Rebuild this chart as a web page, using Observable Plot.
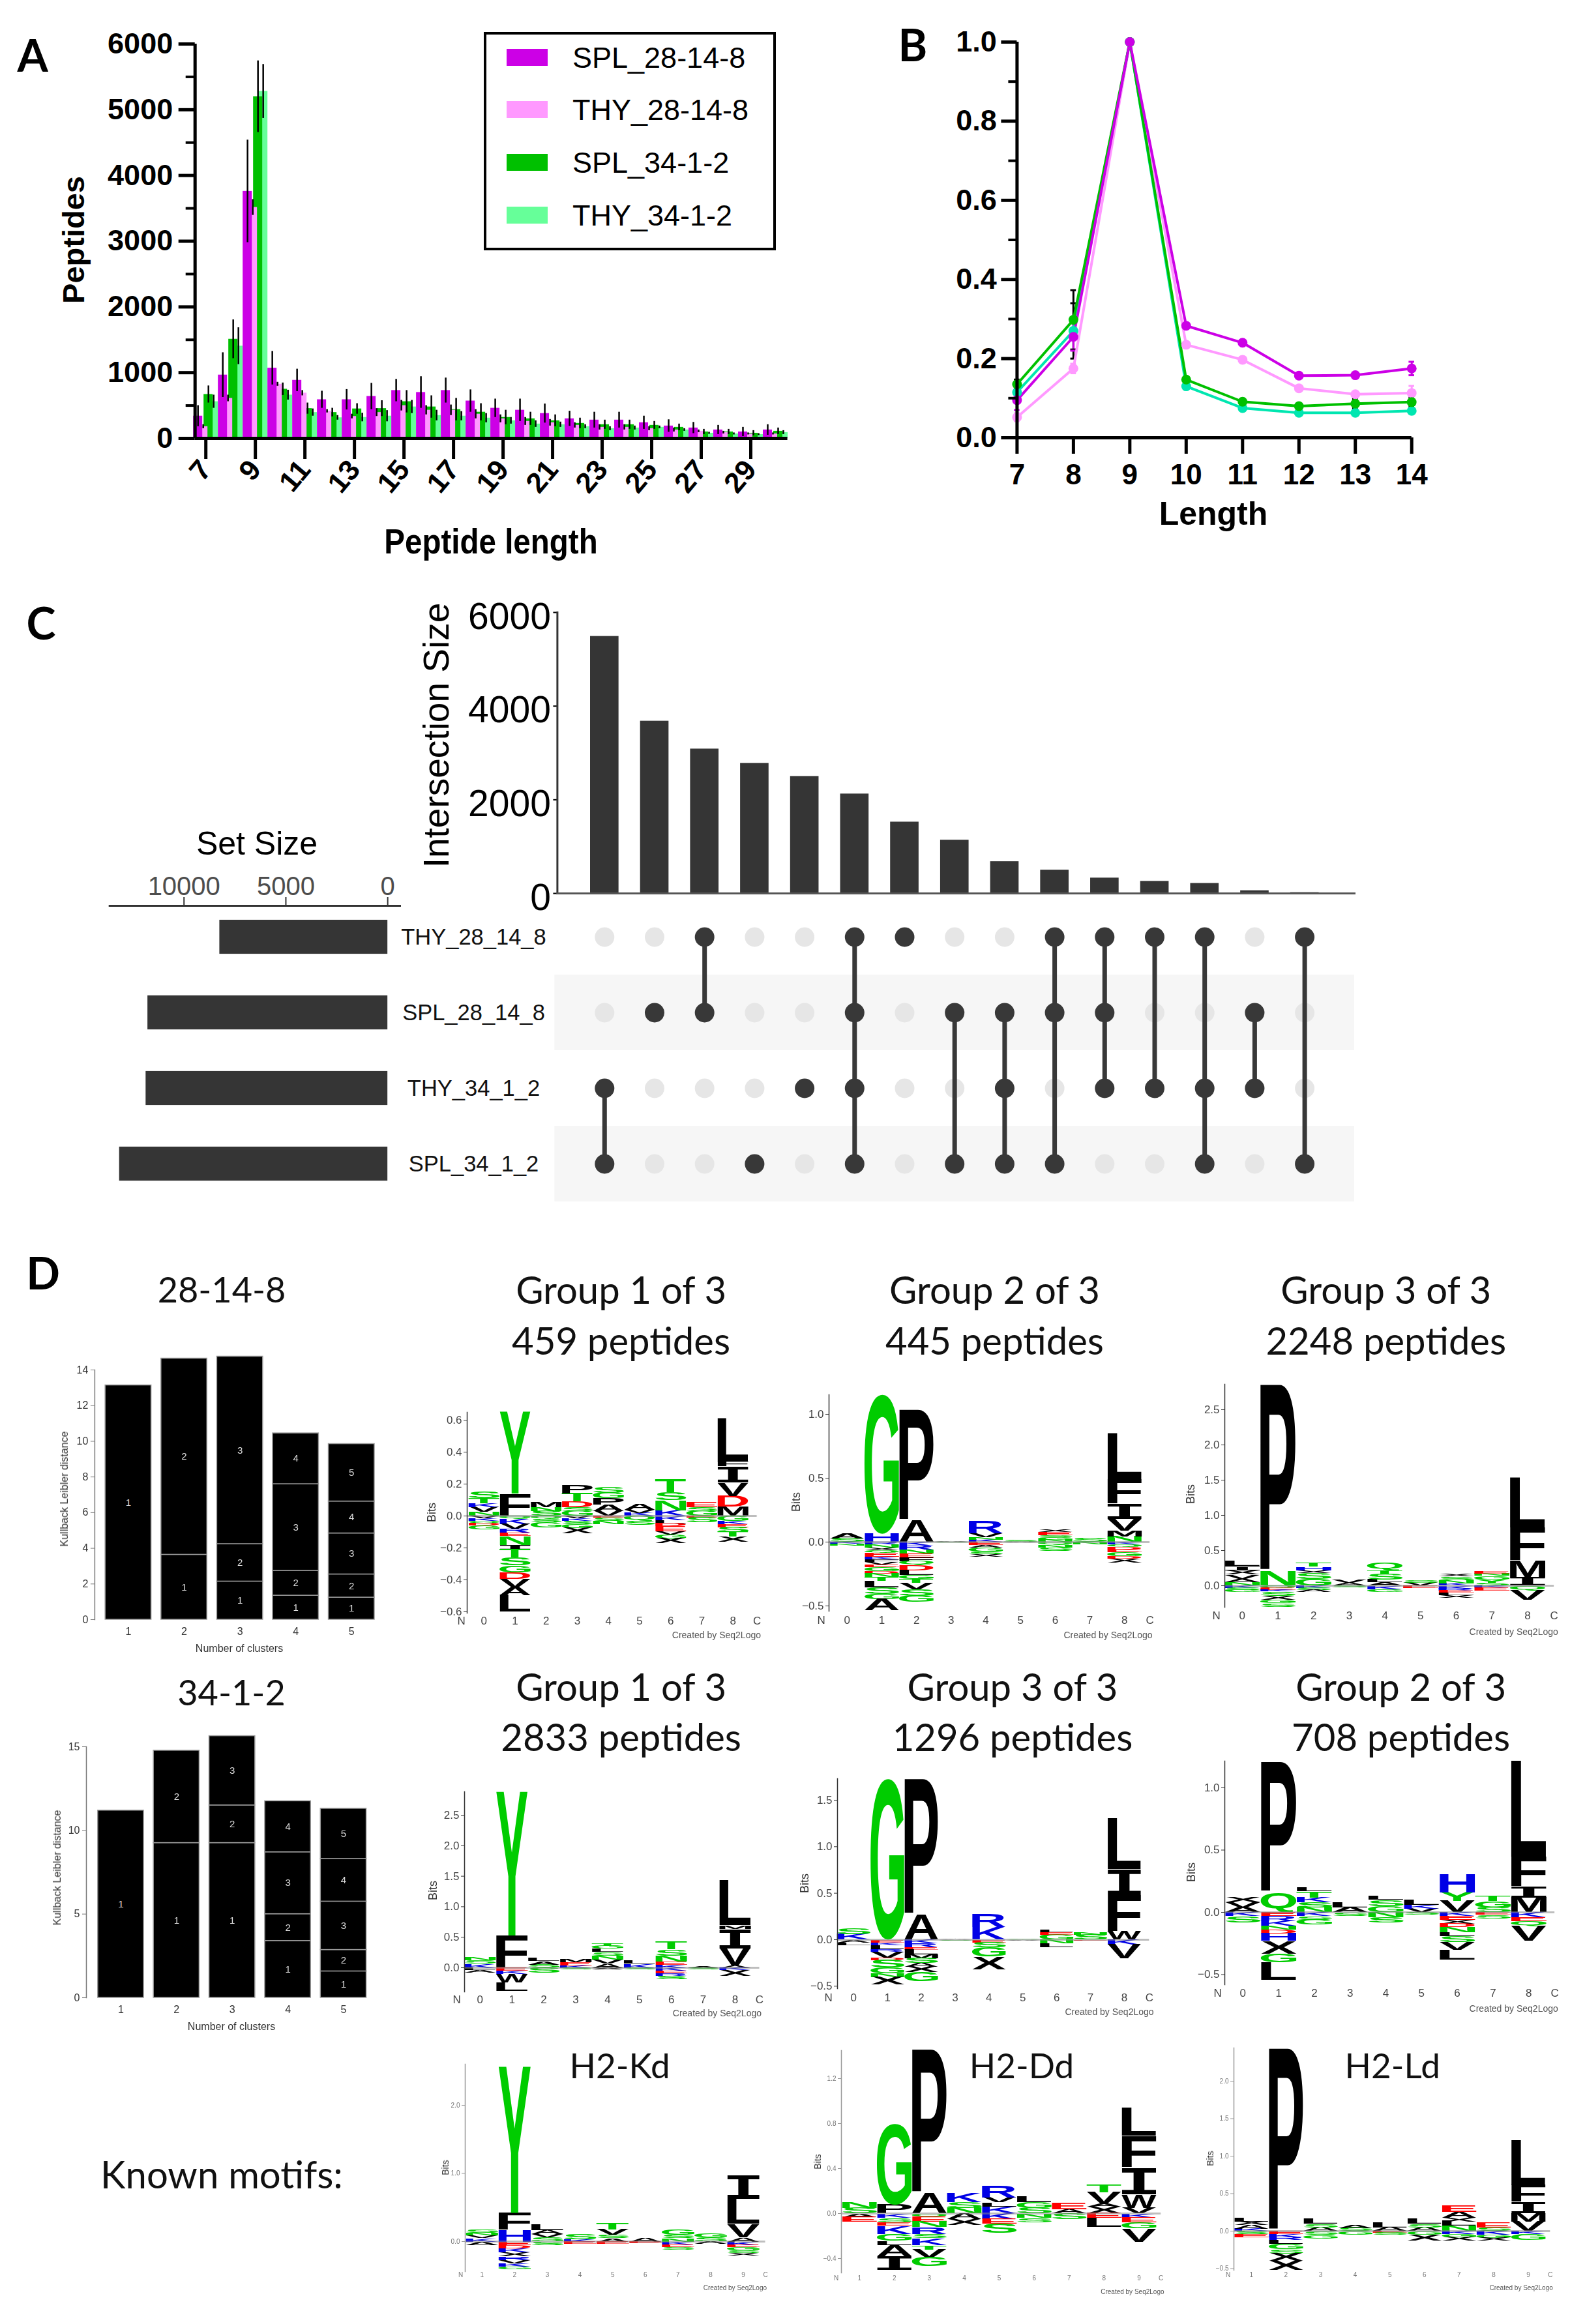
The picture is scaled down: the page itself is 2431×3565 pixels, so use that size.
<!DOCTYPE html>
<html><head><meta charset="utf-8">
<script src="https://cdn.jsdelivr.net/npm/d3@7"></script>
<script src="https://cdn.jsdelivr.net/npm/@observablehq/plot@0.6"></script>
<style>
html,body{margin:0;padding:0;background:#fff}
#page{position:relative;width:2431px;height:3565px;overflow:hidden;background:#fff}
#page svg{overflow:visible;max-width:none;background:transparent}
.lb{position:absolute;white-space:nowrap;line-height:1}
</style></head><body><div id="page"></div>
<script>
// ---------- Panel A ----------
const lengths=[7,8,9,10,11,12,13,14,15,16,17,18,19,20,21,22,23,24,25,26,27,28,29,30];
const series=["SPL_28-14-8","THY_28-14-8","SPL_34-1-2","THY_34-1-2"];
const spl28=[340,965,3760,1070,885,590,590,640,730,700,730,570,460,430,380,300,280,280,240,190,160,130,100,130];
const thy28=[180,610,3515,825,690,415,335,395,500,430,430,370,300,260,240,200,170,170,150,130,110,90,70,70];
const spl34=[670,1510,5200,750,455,395,450,455,560,480,440,400,320,300,270,230,210,210,200,170,100,100,80,110];
const thy34=[560,1405,5280,660,395,315,320,340,480,350,340,310,270,220,210,180,150,160,170,130,80,70,60,90];
const errSpl28=[160,340,780,255,170,130,155,200,170,240,190,170,140,170,145,115,120,120,100,95,85,70,70,80];
const errThy28=[30,50,120,30,40,25,35,60,80,70,80,70,60,60,50,40,40,40,30,30,20,20,15,15];
const errSpl34=[130,295,545,95,85,65,80,120,170,170,170,130,110,100,90,80,70,70,60,50,40,40,40,50];
const errThy34=[100,280,410,75,55,35,65,85,100,80,70,70,50,50,40,30,30,30,20,20,15,15,15,30];
const colorsA=["#CC00E6","#FF99FF","#00C000","#66FF99"];
// ---------- Panel B ----------
const lengthsB=[7,8,9,10,11,12,13,14];
const normSpl28=[.095,.255,1,.283,.24,.157,.158,.175];
const normThy28=[.052,.175,1,.235,.197,.125,.11,.113];
const normSpl34=[.135,.298,1,.147,.091,.08,.086,.09];
const normThy34=[.115,.27,1,.13,.075,.063,.063,.068];
const nerrSpl28=[.025,.035,0,.006,.006,.006,.006,.017];
const nerrThy28=[.01,.012,0,.006,.005,.005,.004,.018];
const nerrSpl34=[.012,.075,0,.005,.005,.005,.012,.012];
const nerrThy34=[.012,.07,0,.004,.004,.004,.004,.004];
const colorsB=["#CC00E6","#FF99FF","#00C000","#00E6B0"];
// ---------- Panel C ----------
const interSizes=[5490,3680,3085,2780,2500,2125,1525,1140,680,500,330,260,215,60,20];
const setNames=["THY_28_14_8","SPL_28_14_8","THY_34_1_2","SPL_34_1_2"];
const setSizes=[8250,11780,11870,13170];
const memberships=[[2,3],[1],[0,1],[3],[2],[0,1,2,3],[0],[1,3],[1,2,3],[0,1,3],[0,1,2],[0,2],[0,2,3],[1,2],[0,3]];
// ---------- Panel D: Kullback-Leibler bars ----------
const kl28=[[13.14],[3.64,11.0],[2.14,2.1,10.51],[1.35,1.39,4.86,2.85],[1.24,1.3,2.3,1.79,3.22]];
const kl34=[[11.19],[9.25,5.52],[9.25,2.25,4.14],[3.4,1.6,3.7,3.05],[1.58,1.28,2.89,2.55,3.0]];
// ---------- Panel D: logos [position, residue, bits] from the baseline outward ----------
const logo28g1=[[0,"N",.025],[0,"V",.03],[0,"K",.025],[0,"T",.03],[0,"S",.045],[0,"V",-.015],[0,"K",-.015],[0,"Q",-.015],[0,"D",-.015],[0,"G",-.025],
[1,"F",.14],[1,"Y",.51],[1,"Q",-.02],[1,"K",-.03],[1,"V",-.03],[1,"R",-.025],[1,"E",-.02],[1,"N",-.055],[1,"I",-.03],[1,"T",-.05],[1,"S",-.05],[1,"G",-.045],[1,"D",-.04],[1,"V",-.05],[1,"A",-.05],[1,"L",-.105],
[2,"S",.03],[2,"N",.025],[2,"M",.03],[2,"Q",-.02],[2,"S",-.02],[2,"G",-.03],
[3,"G",.03],[3,"S",.025],[3,"D",.035],[3,"T",.05],[3,"P",.055],[3,"V",-.015],[3,"K",-.015],[3,"S",-.02],[3,"G",-.025],[3,"X",-.035],
[4,"V",.03],[4,"A",.04],[4,"P",.04],[4,"G",.035],[4,"S",.035],[4,"E",-.01],[4,"S",-.02],[4,"N",-.02],
[5,"K",.02],[5,"V",.02],[5,"A",.035],[5,"Q",-.03],[5,"S",-.025],
[6,"K",.035],[6,"N",.065],[6,"S",.05],[6,"T",.085],[6,"K",-.025],[6,"L",-.02],[6,"D",-.02],[6,"E",-.03],[6,"V",-.02],[6,"G",-.025],[6,"X",-.03],
[7,"G",.03],[7,"S",.025],[7,"E",.03],[7,"E",-.01],[7,"S",-.03],
[8,"M",.06],[8,"D",.065],[8,"V",.085],[8,"I",.1],[8,"F",.03],[8,"L",.27],[8,"G",-.03],[8,"K",-.02],[8,"E",-.02],[8,"S",-.03],[8,"T",-.03],[8,"X",-.03]];
const logo28g2=[[0,"S",.03],[0,"A",.04],[0,"K",-.015],[0,"N",-.015],
[1,"H",.065],[1,"G",1.09],[1,"R",-.02],[1,"N",-.025],[1,"X",-.02],[1,"Q",-.02],[1,"E",-.03],[1,"K",-.02],[1,"F",-.02],[1,"V",-.02],[1,"E",-.02],[1,"G",-.03],[1,"D",-.02],[1,"N",-.03],[1,"T",-.03],[1,"L",-.05],[1,"S",-.05],[1,"G",-.04],[1,"A",-.09],
[2,"A",.17],[2,"P",.87],[2,"K",-.03],[2,"R",-.03],[2,"N",-.03],[2,"E",-.03],[2,"F",-.03],[2,"Q",-.03],[2,"D",-.04],[2,"L",-.04],[2,"G",-.03],[2,"T",-.03],[2,"V",-.05],[2,"S",-.05],[2,"G",-.05],
[3,"A",.005],[3,"S",-.005],
[4,"K",.02],[4,"N",.02],[4,"V",.03],[4,"R",.1],[4,"E",-.025],[4,"A",-.02],[4,"G",-.03],[4,"S",-.02],[4,"X",-.02],
[5,"S",.01],[5,"A",-.005],
[6,"N",.02],[6,"G",.02],[6,"S",.015],[6,"E",.025],[6,"X",.02],[6,"Q",-.025],[6,"N",-.02],[6,"S",-.025],
[7,"S",.03],[7,"N",-.02],
[8,"N",.045],[8,"M",.045],[8,"V",.09],[8,"I",.12],[8,"F",.19],[8,"L",.36],[8,"K",-.02],[8,"Q",-.02],[8,"D",-.02],[8,"E",-.02],[8,"G",-.03],[8,"D",-.02],[8,"X",-.03]];
const logo28g3=[[0,"N",.05],[0,"A",.05],[0,"V",.06],[0,"X",.06],[0,"I",.06],[0,"L",.07],[0,"K",-.03],[0,"S",-.03],[0,"G",-.03],
[1,"N",.2],[1,"P",2.66],[1,"Q",-.03],[1,"E",-.03],[1,"K",-.02],[1,"S",-.06],[1,"X",-.06],[1,"G",-.05],[1,"S",-.05],
[2,"G",.1],[2,"S",.08],[2,"X",.04],[2,"H",.05],[2,"T",.06],[2,"K",-.03],[2,"S",-.03],[2,"A",-.03],
[3,"A",.04],[3,"V",.04],[3,"S",-.02],
[4,"A",.05],[4,"L",.04],[4,"S",.08],[4,"T",.05],[4,"Q",.1],[4,"K",-.05],[4,"G",-.04],
[5,"V",.04],[5,"S",.04],[5,"E",-.03],
[6,"K",.03],[6,"N",.05],[6,"S",.05],[6,"X",.04],[6,"K",-.04],[6,"R",-.03],[6,"E",-.03],[6,"L",-.03],[6,"X",-.04],
[7,"S",.04],[7,"Y",.05],[7,"G",.05],[7,"N",.03],[7,"E",.03],[7,"K",-.02],[7,"E",-.05],
[8,"I",.12],[8,"M",.24],[8,"F",.47],[8,"L",.71],[8,"Q",-.06],[8,"V",-.14]];
const logo34g1=[[0,"K",.07],[0,"S",.05],[0,"N",.05],[0,"L",-.04],[0,"A",-.04],
[1,"F",.53],[1,"Y",2.36],[1,"E",-.05],[1,"K",-.05],[1,"W",-.14],[1,"L",-.14],
[2,"S",.05],[2,"A",.06],[2,"L",.06],[2,"S",-.08],
[3,"K",.04],[3,"E",.05],[3,"M",.05],[3,"S",-.03],
[4,"A",.07],[4,"V",.06],[4,"N",.07],[4,"S",.06],[4,"L",.05],[4,"G",.05],[4,"T",.04],[4,"A",-.03],
[5,"K",.07],[5,"L",.06],[5,"S",-.03],
[6,"K",.05],[6,"E",.05],[6,"N",.1],[6,"S",.1],[6,"T",.13],[6,"K",-.05],[6,"E",-.04],[6,"R",-.04],[6,"S",-.06],
[7,"A",.02],[7,"S",-.03],
[8,"A",.04],[8,"V",.28],[8,"I",.32],[8,"M",.06],[8,"L",.74],[8,"K",-.04],[8,"X",-.09]];
const logo34g3=[[0,"K",.06],[0,"S",.06],[0,"A",-.03],[0,"L",-.03],
[1,"G",1.73],[1,"E",-.03],[1,"K",-.03],[1,"L",-.04],[1,"R",-.03],[1,"V",-.06],[1,"D",-.03],[1,"S",-.08],[1,"G",-.06],[1,"N",-.04],[1,"X",-.08],
[2,"A",.27],[2,"P",1.46],[2,"K",-.04],[2,"R",-.04],[2,"E",-.03],[2,"L",-.05],[2,"M",-.04],[2,"S",-.05],[2,"A",-.04],[2,"X",-.06],[2,"G",-.1],
[3,"A",.01],[3,"S",-.01],
[4,"K",.14],[4,"R",.14],[4,"E",-.03],[4,"S",-.05],[4,"G",-.1],[4,"X",-.14],
[5,"S",.01],[5,"A",-.01],
[6,"G",.05],[6,"E",.03],[6,"L",.03],[6,"N",-.04],[6,"L",-.04],
[7,"S",.05],[7,"N",.03],[7,"E",-.01],
[8,"W",.09],[8,"F",.39],[8,"I",.28],[8,"L",.55],[8,"K",-.05],[8,"V",-.15]];
const logo34g2=[[0,"A",.04],[0,"V",.04],[0,"X",.04],[0,"K",-.03],[0,"S",-.05],
[1,"Q",.16],[1,"P",1.05],[1,"E",-.03],[1,"R",-.04],[1,"K",-.04],[1,"N",-.03],[1,"D",-.03],[1,"H",-.06],[1,"X",-.1],[1,"G",-.07],[1,"L",-.14],
[2,"N",.04],[2,"S",.04],[2,"K",.04],[2,"T",.05],[2,"L",.03],[2,"K",-.03],[2,"S",-.03],[2,"G",-.04],
[3,"A",.04],[3,"L",.04],[3,"S",-.03],
[4,"G",.05],[4,"S",.05],[4,"L",.03],[4,"N",-.04],[4,"S",-.04],
[5,"V",.03],[5,"K",.03],[5,"L",.04],[5,"S",-.02],
[6,"V",.09],[6,"Y",.07],[6,"H",.15],[6,"K",-.03],[6,"E",-.03],[6,"X",-.03],[6,"D",-.03],[6,"N",-.04],[6,"L",-.03],[6,"S",-.05],[6,"V",-.06],[6,"L",-.08],
[7,"S",.04],[7,"G",.05],[7,"T",.04],[7,"E",-.02],[7,"S",-.03],
[8,"M",.12],[8,"I",.09],[8,"F",.24],[8,"L",.77],[8,"K",-.04],[8,"E",-.03],[8,"Q",-.04],[8,"V",-.12]];
const logoKd=[[1,"K",.05],[1,"V",.04],[1,"N",.04],[1,"S",.05],[1,"A",-.05],
[2,"H",.17],[2,"F",.25],[2,"Y",2.15],[2,"E",-.05],[2,"D",-.05],[2,"K",-.06],[2,"X",-.06],[2,"R",-.05],[2,"V",-.05],[2,"K",-.05],[2,"G",-.04],
[3,"S",.06],[3,"V",.05],[3,"A",.06],[3,"L",.08],[3,"S",-.05],
[4,"K",.03],[4,"S",.07],[4,"E",-.03],
[5,"A",.05],[5,"S",.05],[5,"V",.08],[5,"T",.1],[5,"E",-.03],
[6,"A",.06],[6,"E",-.02],
[7,"N",.05],[7,"S",.05],[7,"G",.08],[7,"K",-.04],[7,"E",-.04],[7,"S",-.04],
[8,"S",.06],[8,"G",.06],[8,"A",-.03],
[9,"A",.06],[9,"V",.2],[9,"L",.37],[9,"I",.34],[9,"K",-.05],[9,"E",-.03],[9,"G",-.05],[9,"S",-.04],[9,"X",-.04]];
const logoDd=[[1,"S",.05],[1,"N",.05],[1,"A",-.03],[1,"E",-.04],
[2,"P",.08],[2,"G",.72],[2,"K",-.04],[2,"S",-.04],[2,"E",-.03],[2,"K",-.07],[2,"G",-.06],[2,"L",-.04],[2,"A",-.1],[2,"I",-.12],
[3,"A",.18],[3,"P",1.28],[3,"Q",-.03],[3,"E",-.04],[3,"N",-.05],[3,"R",-.06],[3,"S",-.04],[3,"K",-.06],[3,"T",-.04],[3,"V",-.07],[3,"G",-.08],
[4,"N",.05],[4,"S",.05],[4,"K",.08],[4,"A",-.05],[4,"X",-.05],
[5,"K",.06],[5,"L",.04],[5,"V",.04],[5,"R",.1],[5,"K",-.05],[5,"E",-.04],[5,"S",-.08],
[6,"S",.05],[6,"G",.05],[6,"L",.05],[6,"N",-.04],[6,"S",-.04],
[7,"A",.04],[7,"E",.06],[7,"S",-.05],
[8,"X",.06],[8,"A",.03],[8,"V",.1],[8,"T",.07],[8,"E",-.04],[8,"L",-.08],
[9,"V",.05],[9,"W",.12],[9,"I",.24],[9,"F",.28],[9,"L",.25],[9,"K",-.04],[9,"E",-.04],[9,"G",-.05],[9,"V",-.12]];
const logoLd=[[1,"K",.03],[1,"A",.05],[1,"X",.05],[1,"L",.05],[1,"S",-.04],[1,"E",-.04],
[2,"P",2.44],[2,"E",-.04],[2,"K",-.04],[2,"R",-.04],[2,"L",-.05],[2,"G",-.07],[2,"S",-.06],[2,"X",-.1],[2,"X",-.12],
[3,"A",.05],[3,"S",.05],[3,"L",.06],[3,"S",-.05],[3,"G",-.05],
[4,"S",.04],[4,"A",.04],[4,"G",-.05],
[5,"A",.05],[5,"L",.07],[5,"E",-.02],[5,"S",-.03],
[6,"A",.05],[6,"S",.05],[6,"L",.06],[6,"G",-.05],[6,"X",-.08],
[7,"N",.07],[7,"L",.06],[7,"X",.05],[7,"A",.08],[7,"E",.09],[7,"K",-.04],[7,"G",-.04],[7,"X",-.05],
[8,"S",.05],[8,"E",.07],[8,"K",-.05],[8,"G",-.04],[8,"X",-.04],
[9,"V",.13],[9,"M",.11],[9,"I",.15],[9,"F",.22],[9,"L",.6],[9,"K",-.04],[9,"G",-.08]];

// ---------- helpers ----------
const page=document.getElementById("page");
const SANS='"Liberation Sans",Arial,sans-serif';
const NARROW='"Liberation Sans Narrow","Liberation Sans",sans-serif';
const LATO='Lato,"Open Sans",sans-serif';
function place(svg,left,top,w,blur){
  const d=document.createElement("div");
  d.style.cssText=`position:absolute;left:${left}px;top:${top}px;width:${w}px`+(blur?`;filter:blur(${blur}px)`:"");
  d.append(svg);page.append(d);
}
function label(text,cx,cy,o={}){
  const d=document.createElement("div");d.className="lb";d.textContent=text;
  const ax=o.anchor==="end"?"-100%":o.anchor==="start"?"0":"-50%";
  d.style.cssText+=`;left:${cx}px;top:${cy}px;font-size:${o.size||20}px;font-family:${o.family||SANS};font-weight:${o.weight||"normal"};color:${o.color||"#000"};transform:translate(${ax},-50%) rotate(${o.rotate||0}deg) scale(${o.sx||1},${o.sy||1})`;
  page.append(d);
}
const range=(a,b,s)=>d3.range(a,b+s/2,s);

// ---------- Panel A plot ----------
const rowsA=[];
[[thy34,errThy34,3],[spl34,errSpl34,2],[thy28,errThy28,1],[spl28,errSpl28,0]].forEach(([v,e,j])=>lengths.forEach((len,i)=>rowsA.push({len,j,v:v[i],e:e[i]})));
const step=.2106,bw=.3685,start=-.5;
place(Plot.plot({width:1300,height:800,marginLeft:298.7,marginTop:67,marginBottom:128,marginRight:92.4,
  x:{domain:[6.566,30.49],axis:null},y:{domain:[0,6000],axis:null},
  style:{fontFamily:SANS,fontWeight:"bold",background:"transparent",color:"#000"},
  marks:[
    Plot.rectY(rowsA,{x1:d=>d.len+start+d.j*step,x2:d=>d.len+start+d.j*step+bw,y1:()=>0,y2:"v",fill:d=>colorsA[d.j]}),
    Plot.ruleX(rowsA,{x:d=>d.len+start+d.j*step+bw/2,y1:d=>Math.max(0,d.v-d.e),y2:d=>d.v+d.e,stroke:"#000",strokeWidth:2.5}),
    Plot.axisY({ticks:range(0,6000,1000),tickSize:25,tickPadding:9,strokeWidth:5,fontSize:45,label:null,tickFormat:"d"}),
    Plot.axisY({ticks:range(500,5500,1000),tickSize:14,strokeWidth:4,fill:"none",label:null}),
    Plot.axisX({ticks:range(7,29,2),tickSize:32,tickPadding:8,strokeWidth:5,tickRotate:-50,fontSize:44,label:null,tickFormat:"d"}),
    Plot.ruleX([6.566],{stroke:"#000",strokeWidth:5}),
    Plot.ruleY([0],{stroke:"#000",strokeWidth:5})
  ]}),0,0,1300);
label("Peptides",112,368,{size:47,weight:"bold",rotate:-90});
label("Peptide length",753,830,{size:54,weight:"bold",sx:.88});
// legend
(function(){
  const box=document.createElement("div");
  box.style.cssText="position:absolute;left:742px;top:49px;width:440px;height:327px;border:4px solid #000;background:#fff";
  page.append(box);
  [88,168,249,330].forEach((cy,i)=>{
    const s=document.createElement("div");
    s.style.cssText=`position:absolute;left:777px;top:${cy-13}px;width:63px;height:26px;background:${colorsA[i]}`;
    page.append(s);
    label(series[i],878,cy,{size:45,anchor:"start"});
  });
})();

// ---------- Panel B plot ----------
const rowsB=[];
[[normThy28,nerrThy28,1],[normThy34,nerrThy34,3],[normSpl34,nerrSpl34,2],[normSpl28,nerrSpl28,0]].forEach(([v,e,j])=>lengthsB.forEach((len,i)=>rowsB.push({len,j,v:v[i],e:e[i]})));
const errB=rowsB.filter(d=>d.e>0);
const errColor=d=>d.j===0||d.j===1?colorsB[d.j]:"#000";
place(Plot.plot({width:1000,height:800,marginLeft:209.4,marginTop:64,marginBottom:129,marginRight:185.3,
  x:{domain:[7,14],axis:null},y:{domain:[0,1],axis:null},
  style:{fontFamily:SANS,fontWeight:"bold",background:"transparent",color:"#000"},
  marks:[
    Plot.ruleX(errB,{x:"len",y1:d=>d.v-d.e,y2:d=>d.v+d.e,stroke:errColor,strokeWidth:3}),
    Plot.ruleY(errB,{y:d=>d.v+d.e,x1:d=>d.len-.05,x2:d=>d.len+.05,stroke:errColor,strokeWidth:3}),
    Plot.ruleY(errB,{y:d=>d.v-d.e,x1:d=>d.len-.05,x2:d=>d.len+.05,stroke:errColor,strokeWidth:3}),
    Plot.line(rowsB,{x:"len",y:"v",z:"j",stroke:d=>colorsB[d.j],strokeWidth:4}),
    Plot.dot(rowsB,{x:"len",y:"v",fill:d=>colorsB[d.j],r:7.5}),
    Plot.axisY({ticks:range(0,1,.2),tickSize:24,tickPadding:7,strokeWidth:5,fontSize:45,label:null,tickFormat:".1f"}),
    Plot.axisY({ticks:range(.1,.9,.2),tickSize:13,strokeWidth:4,fill:"none",label:null}),
    Plot.axisX({ticks:lengthsB,tickSize:25,tickPadding:15,strokeWidth:5,fontSize:44,label:null,tickFormat:"d"}),
    Plot.ruleX([7],{stroke:"#000",strokeWidth:5}),
    Plot.ruleY([0],{stroke:"#000",strokeWidth:5})
  ]}),1350,0,1000);
label("Length",1861,788,{size:50,weight:"bold"});

// ---------- Panel C ----------
const cols=d3.range(interSizes.length);
place(Plot.plot({width:1500,height:520,marginLeft:234.4,marginRight:43,marginTop:39,marginBottom:50,
  x:{type:"band",domain:cols,range:[285,1402.5],paddingInner:.431,paddingOuter:0,round:false,axis:null},
  y:{domain:[0,6000],axis:null},
  style:{fontFamily:SANS,background:"transparent",color:"#000"},
  marks:[
    Plot.barY(cols,{x:d=>d,y:d=>interSizes[d],fill:"#353535"}),
    Plot.axisY({ticks:range(0,6000,2000),tickSize:6,strokeWidth:2,fill:"none",label:null}),
    Plot.axisY({ticks:range(0,6000,2000),tickSize:0,tickPadding:10,fontSize:57,stroke:"none",dy:7,label:null,tickFormat:"d"}),
    Plot.frame({anchor:"left",stroke:"#333",strokeWidth:3}),
    Plot.frame({anchor:"bottom",stroke:"#555",strokeWidth:3})
  ]}),620,900,1500);
label("Intersection Size",669,1128,{size:55,rotate:-90});

const memberRows=[];
memberships.forEach((m,c)=>setNames.forEach((s,r)=>memberRows.push({c,r,on:m.includes(r)})));
const links=memberships.map((m,c)=>({c,a:d3.min(m),b:d3.max(m)})).filter(d=>d.a!==d.b);
place(Plot.plot({width:1260,height:480,marginLeft:7.4,marginRight:26,marginTop:9,marginBottom:7,
  x:{domain:[-.996,14.996],axis:null},y:{domain:[3.5,-.5],axis:null},
  style:{background:"transparent"},
  marks:[
    Plot.rect([1,3],{x1:()=>-.996,x2:()=>14.996,y1:d=>d-.5,y2:d=>d+.5,fill:"#f6f6f6"}),
    Plot.dot(memberRows.filter(d=>!d.on),{x:"c",y:"r",r:15,fill:"#e6e6e6"}),
    Plot.ruleX(links,{x:"c",y1:"a",y2:"b",stroke:"#383838",strokeWidth:7}),
    Plot.dot(memberRows.filter(d=>d.on),{x:"c",y:"r",r:15,fill:"#383838"})
  ]}),843,1370,1260);

place(Plot.plot({width:760,height:560,marginLeft:17.7,marginTop:89,marginRight:297,marginBottom:10,
  x:{domain:[13650,-603],axis:null},
  y:{type:"band",domain:setNames,range:[79,543],paddingInner:.55,paddingOuter:.275,round:false,axis:null},
  style:{fontFamily:SANS,background:"transparent"},
  marks:[
    Plot.barX(setNames,{x:(d,i)=>setSizes[i],y:d=>d,fill:"#353535"}),
    Plot.frame({anchor:"top",stroke:"#333",strokeWidth:3}),
    Plot.axisX({anchor:"top",ticks:[0,5000,10000],tickSize:14,tickPadding:3,fontSize:40,strokeWidth:2,stroke:"#333",fill:"#4d4d4d",label:null,tickFormat:"d"}),
    Plot.text(setNames,{y:d=>d,text:d=>d,frameAnchor:"right",textAnchor:"middle",dx:113,fontSize:34.5,fill:"#111"})
  ]}),150,1300,760);
label("Set Size",394,1294,{size:50});

// ---------- Panel D: KL bars ----------
function klPlot(vals,o){
  const rows=[];vals.forEach((a,k)=>a.forEach((v,s)=>rows.push({k:k+1,s:s+1,v})));
  const mt=40,h=o.bottom-o.top+mt+66,w=640;
  place(Plot.plot({width:w,height:h,marginLeft:o.axis-o.left,marginRight:w-(o.axis-o.left)-500,marginTop:mt,marginBottom:66,
    x:{type:"band",domain:[1,2,3,4,5],range:[o.x0-o.left,o.x1-o.left],paddingInner:.177,paddingOuter:0,round:false,axis:null},
    y:{domain:[0,o.max],axis:null},
    style:{fontFamily:SANS,background:"transparent",color:"#333"},
    marks:[
      Plot.barY(rows,{x:"k",y:"v",fill:"#000",stroke:"#999",strokeWidth:1.5}),
      Plot.text(rows,Plot.stackY({x:"k",y:"v",text:"s",fill:"#ddd",fontSize:15})),
      Plot.axisY({ticks:o.ticks,tickSize:6,tickPadding:4,fontSize:16,label:null,stroke:"#777"}),
      Plot.axisX({ticks:[1,2,3,4,5],tickSize:0,tickPadding:12,fontSize:16,label:null,stroke:"none"}),
      Plot.frame({anchor:"left",stroke:"#777",strokeWidth:1.5})
    ]}),o.left,o.top-mt,w,.5);
}
klPlot(kl28,{left:60,top:2101,bottom:2484,max:14,axis:144.9,x0:161.2,x1:574,ticks:range(0,14,2)});
klPlot(kl34,{left:60,top:2679,bottom:3064,max:15,axis:132,x0:149.8,x1:561.6,ticks:[0,5,10,15]});
label("Kullback Leibler distance",99,2284,{size:16,rotate:-90,color:"#333"});
label("Kullback Leibler distance",88,2865,{size:16,rotate:-90,color:"#333"});
label("Number of clusters",367,2529,{size:16,color:"#333"});
label("Number of clusters",355,3109,{size:16,color:"#333"});

// ---------- Panel D: logos ----------
const GREEN=new Set("GSTYCNQ"),BLUE=new Set("KRH"),RED=new Set("DE");
const letterColor=l=>GREEN.has(l)?"#00CC00":BLUE.has(l)?"#0000E6":RED.has(l)?"#FF0000":"#000";
const mctx=document.createElement("canvas").getContext("2d");
const glyphFont=l=>l==="I"?'"Liberation Mono"':'"Liberation Sans"';
function glyph(l){mctx.font=`bold 100px ${glyphFont(l)}`;const m=mctx.measureText(l);
  return {L:m.actualBoundingBoxLeft,R:m.actualBoundingBoxRight,A:m.actualBoundingBoxAscent,D:m.actualBoundingBoxDescent};}
function stackLogo(rows){const up={},dn={};
  return rows.map(([pos,letter,bits])=>{const acc=bits>=0?up:dn;const a=acc[pos]||0,b=a+bits;acc[pos]=b;
    return {pos,letter,lo:Math.min(a,b),hi:Math.max(a,b),fill:letterColor(letter)};});}
function logoPlot(o){
  const rows=stackLogo(o.rows);
  const left=o.axis-60,top=o.top-10,H=o.bottom-o.top+60,W=o.cx+30-left;
  const perBit=(o.cal[3]-o.cal[1])/(o.cal[0]-o.cal[2]);
  const vTop=o.cal[0]+(o.cal[1]-o.top)/perBit, vBot=o.cal[0]-(o.bottom-o.cal[1])/perBit;
  const dom0=o.first+(o.axis-o.p0)/o.dx, xc=o.first+(o.cx-o.p0)/o.dx, xn=o.first+(o.nx-o.p0)/o.dx;
  const posTicks=d3.range(o.first,o.first+9);
  const axisColor=o.faint?"#999":"#333",fs=o.fs||17;
  place(Plot.plot({width:W,height:H,marginLeft:60,marginRight:30,marginTop:10,marginBottom:50,
    x:{domain:[dom0,xc],axis:null},y:{domain:[vBot,vTop],axis:null},
    color:{type:"identity"},
    style:{fontFamily:NARROW,background:"transparent",color:"#444"},
    marks:[
      Plot.text(rows,{x:"pos",y:d=>(d.lo+d.hi)/2,text:"letter",fill:"fill",fontSize:100,fontWeight:"bold",fontFamily:'"Liberation Sans"',textAnchor:"start",
        render(index,scales,values,dims,ctx,next){
          const g=next(index,scales,values,dims,ctx);
          const els=g.querySelectorAll("text");
          index.forEach((i,n)=>{const d=rows[i],el=els[n],m=glyph(d.letter);
            const x0=scales.x(d.pos-.5),x1=scales.x(d.pos+.5),yt=scales.y(d.hi),yb=scales.y(d.lo);
            const sx=(x1-x0)/(m.L+m.R),sy=(yb-yt)/(m.A+m.D);
            el.setAttribute("y",0);el.removeAttribute("dy");
            el.setAttribute("text-anchor","start");
            el.style.fontFamily=glyphFont(d.letter);
            el.setAttribute("transform",`translate(${x0+sx*m.L},${yb-sy*m.D}) scale(${sx},${sy})`);
          });
          return g;
        }}),
      Plot.ruleY([0],{stroke:"#888",strokeOpacity:.55,strokeWidth:3}),
      Plot.frame({anchor:"left",stroke:axisColor,strokeWidth:1.5}),
      Plot.axisY({ticks:o.ticks,tickSize:5,tickPadding:3,fontSize:fs,label:null,tickFormat:".1f",stroke:axisColor,fill:o.faint?"#777":"#444"}),
      Plot.axisX({ticks:[xn,...posTicks,xc],tickSize:0,tickPadding:o.labelY-o.bottom-7,fontSize:fs,label:null,stroke:"none",fill:o.faint?"#777":"#444",
        tickFormat:d=>d===xn?"N":d===xc?"C":String(d)})
    ]}),left,top,W,.7);
  label("Bits",o.bitsX,o.bitsY,{size:o.faint?14:18,family:NARROW,rotate:-90,color:"#333"});
  label("Created by Seq2Logo",o.cr[0],o.cr[1],{size:o.faint?10:14,family:NARROW,anchor:"end",color:"#555"});
}
logoPlot({rows:logo28g1,axis:716.4,first:0,p0:742.2,dx:47.73,cal:[.6,2178,0,2325],top:2166,bottom:2474,ticks:[-.6,-.4,-.2,0,.2,.4,.6],labelY:2486,nx:707.5,cx:1161,bitsX:662,bitsY:2320,cr:[1167,2508]});
logoPlot({rows:logo28g2,axis:1270.5,first:0,p0:1298.2,dx:53.2,cal:[1,2169,0,2365],top:2139,bottom:2471,ticks:[-.5,0,.5,1],labelY:2485,nx:1258.5,cx:1762.6,bitsX:1220.8,bitsY:2304,cr:[1767.6,2508]});
logoPlot({rows:logo28g3,axis:1877.7,first:0,p0:1904.5,dx:54.7,cal:[2.5,2162,0,2432],top:2123,bottom:2465,ticks:[0,.5,1,1.5,2,2.5],labelY:2478,nx:1864.8,cx:2382.8,bitsX:1826,bitsY:2292,cr:[2389.8,2503]});
logoPlot({rows:logo34g1,axis:711.5,first:0,p0:735.3,dx:48.9,cal:[2.5,2784,0,3018],top:2748,bottom:3055,ticks:[0,.5,1,1.5,2,2.5],labelY:3067,nx:699.6,cx:1164,bitsX:664,bitsY:2900,cr:[1168,3088]});
logoPlot({rows:logo34g3,axis:1284.3,first:0,p0:1309,dx:51.9,cal:[1.5,2761,0,2975],top:2728,bottom:3050,ticks:[-.5,0,.5,1,1.5],labelY:3064,nx:1270.5,cx:1762.6,bitsX:1233.7,bitsY:2889,cr:[1769.6,3086]});
logoPlot({rows:logo34g2,axis:1877.7,first:0,p0:1905.5,dx:54.8,cal:[1,2742,0,2933],top:2701,bottom:3044,ticks:[-.5,0,.5,1],labelY:3057,nx:1866.8,cx:2383.8,bitsX:1827,bitsY:2872,cr:[2389.8,3081]});
logoPlot({rows:logoKd,axis:712.5,first:1,p0:738.3,dx:50.1,cal:[2,3229,0,3438],top:3166,bottom:3484,ticks:[0,1,2],labelY:3492,nx:705.5,cx:1173,bitsX:683,bitsY:3325,cr:[1176,3510],faint:true,fs:10});
logoPlot({rows:logoDd,axis:1290.3,first:1,p0:1318,dx:53.6,cal:[1.2,3188,0,3395],top:3145,bottom:3486,ticks:[-.4,0,.4,.8,1.2],labelY:3497,nx:1282.4,cx:1780.5,bitsX:1253.6,bitsY:3316,cr:[1785.5,3516],faint:true,fs:10});
logoPlot({rows:logoLd,axis:1891.6,first:1,p0:1918.4,dx:53.1,cal:[2,3192,0,3422],top:3141,bottom:3482,ticks:[-.5,0,.5,1,1.5,2],labelY:3492,nx:1882.7,cx:2376.9,bitsX:1856,bitsY:3311,cr:[2381.8,3510],faint:true,fs:10});

// ---------- Titles & panel letters ----------
[["A",50,84],["B",1400,68],["C",63,955],["D",66,1952]].forEach(([t,x,y])=>label(t,x,y,{size:68,weight:"bold",family:LATO}));
const T={size:58,family:LATO,color:"#111"};
[["Group 1 of 3",952.6,1978],["459 peptides",952.6,2056],["Group 2 of 3",1525.5,1978],["445 peptides",1525.5,2056],["Group 3 of 3",2125.8,1978],["2248 peptides",2125.8,2056],
 ["Group 1 of 3",952.6,2587],["2833 peptides",952.6,2664],["Group 3 of 3",1553,2587],["1296 peptides",1553,2664],["Group 2 of 3",2148.6,2587],["708 peptides",2148.6,2664],
 ["Known motifs:",340,3335]].forEach(([t,x,y])=>label(t,x,y,T));
[["H2-Kd",950.6,3167],["H2-Dd",1567,3167],["H2-Ld",2135.7,3167]].forEach(([t,x,y])=>label(t,x,y,{...T,size:53}));
label("28-14-8",340,1978,{...T,size:54});
label("34-1-2",355,2596,{...T,size:54});
</script></body></html>
